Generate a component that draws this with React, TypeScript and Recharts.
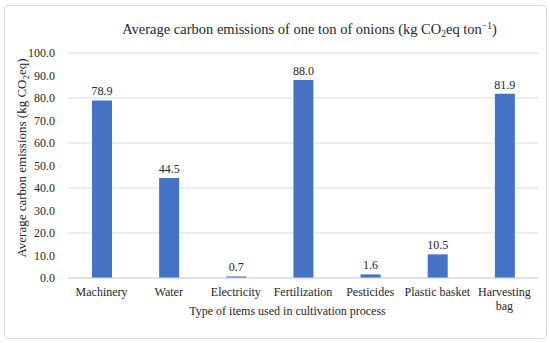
import React from 'react';
import { BarChart, Bar, XAxis, YAxis, CartesianGrid, LabelList } from 'recharts';

const items = ['Machinery', 'Water', 'Electricity', 'Fertilization', 'Pesticides', 'Plastic basket', 'Harvesting bag'];
const emissions = [78.9, 44.5, 0.7, 88.0, 1.6, 10.5, 81.9];
const yTicks = [0, 10, 20, 30, 40, 50, 60, 70, 80, 90, 100];

const data = items.map((name, i) => ({ name, value: emissions[i] }));

const FONT = '"Liberation Serif", "Times New Roman", serif';
const INK = '#262626';
const svgText = { fontSize: 12, fontFamily: FONT, fill: INK };

// greedy word wrap measured with canvas, so the label font is what decides the break
let ctx: CanvasRenderingContext2D | null = null;
const wrap = (label: string, maxW: number) => {
  if (!ctx) {
    ctx = document.createElement('canvas').getContext('2d');
    if (ctx) ctx.font = `12px ${FONT}`;
  }
  const words = label.split(' ');
  const lines: string[] = [];
  let cur = '';
  words.forEach((w) => {
    const next = cur ? cur + ' ' + w : w;
    if (cur && ctx && ctx.measureText(next).width > maxW) {
      lines.push(cur);
      cur = w;
    } else {
      cur = next;
    }
  });
  if (cur) lines.push(cur);
  return lines;
};

const CategoryTick = (props: any) => {
  const { x, y, payload } = props;
  const lines = wrap(String(payload.value), 67);
  return (
    <text x={x} y={y + 9} textAnchor="middle" style={svgText}>
      {lines.map((l, i) => (
        <tspan key={i} x={x} dy={i === 0 ? 0 : 14}>
          {l}
        </tspan>
      ))}
    </text>
  );
};

const YTitle = () => {
  const cy = 158;
  const cx = 26;
  return (
    <text
      x={cx}
      y={cy}
      transform={`rotate(-90 ${cx} ${cy})`}
      textAnchor="middle"
      style={{ ...svgText, fontSize: 13 }}
    >
      Average carbon emissions (kg CO<tspan dy={3} style={{ fontSize: 9 }}>2</tspan>
      <tspan dy={-3}>eq)</tspan>
    </text>
  );
};

export default function App() {
  return (
    <div style={{ position: 'absolute', left: 0, top: 0, width: 550, height: 343, fontFamily: FONT, color: INK }}>
      <div
        style={{
          position: 'absolute',
          left: 4,
          top: 5,
          width: 541,
          height: 332,
          border: '1px solid #d9d9d9',
          borderRadius: 4,
        }}
      />
      <div
        style={{
          position: 'absolute',
          left: 0,
          width: 619,
          top: 22,
          textAlign: 'center',
          fontSize: 14.5,
          lineHeight: '14px',
          whiteSpace: 'nowrap',
        }}
      >
        Average carbon emissions of one ton of onions (kg CO
        <span style={{ fontSize: 9.5, position: 'relative', top: 3 }}>2</span>eq ton
        <span style={{ fontSize: 9.5, position: 'relative', top: -5 }}>−1</span>)
      </div>
      <div
        style={{
          position: 'absolute',
          left: 0,
          width: 575,
          top: 305,
          textAlign: 'center',
          fontSize: 12,
          lineHeight: '12px',
          whiteSpace: 'nowrap',
        }}
      >
        Type of items used in cultivation process
      </div>
      <div style={{ position: 'absolute', left: 0, top: 0 }}>
        <BarChart width={550} height={343} data={data} margin={{ top: 53, right: 12, left: 0, bottom: 0 }}>
          <CartesianGrid vertical={false} stroke="#d9d9d9" />
          <XAxis
            dataKey="name"
            height={65}
            interval={0}
            tickLine={false}
            tickSize={0}
            tickMargin={9}
            axisLine={{ stroke: '#d9d9d9' }}
            tick={<CategoryTick />}
          />
          <YAxis
            width={68}
            domain={[0, 100]}
            ticks={yTicks}
            tickFormatter={(v: number) => v.toFixed(1)}
            tickLine={false}
            tickSize={0}
            tickMargin={13}
            axisLine={false}
            tick={{ style: svgText }}
            label={<YTitle />}
          />
          <Bar dataKey="value" fill="#4472c4" barSize={20} isAnimationActive={false}>
            <LabelList
              dataKey="value"
              position="top"
              offset={5}
              formatter={(v: any) => Number(v).toFixed(1)}
              style={svgText}
            />
          </Bar>
        </BarChart>
      </div>
    </div>
  );
}
